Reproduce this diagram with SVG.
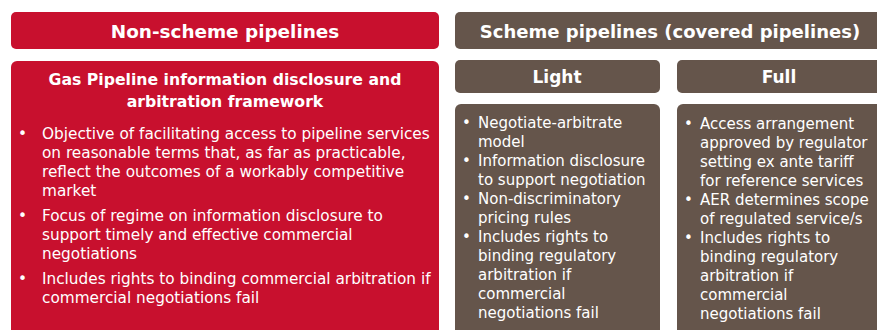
<svg xmlns="http://www.w3.org/2000/svg" width="877" height="330" viewBox="0 0 877 330">
<style>
.red{fill:#C8102E}
.brown{fill:#65554B}
.h{font-family:"DejaVu Sans",sans-serif;font-weight:bold;fill:#fff;text-anchor:middle}
.b{font-family:"DejaVu Sans",sans-serif;fill:#fff;font-size:15px}
.bl{font-family:"DejaVu Sans",sans-serif;fill:#fff;font-size:15.3px}
</style>
<rect width="877" height="330" fill="#fff"/>
<g id="nonscheme-header">
<rect class="red" x="11" y="12" width="428" height="37" rx="5"/>
<text class="h" x="225" y="38" font-size="18.4">Non-scheme pipelines</text>
</g>
<g id="nonscheme-body">
<rect class="red" x="11" y="61" width="428" height="280" rx="6"/>
<text class="h" x="225" y="85" font-size="15.7">Gas Pipeline information disclosure and</text>
<text class="h" x="225" y="107" font-size="15.7">arbitration framework</text>
<g class="bl">
<text x="18" y="139">•</text>
<text x="42" y="139">Objective of facilitating access to pipeline services</text>
<text x="42" y="158">on reasonable terms that, as far as practicable,</text>
<text x="42" y="177">reflect the outcomes of a workably competitive</text>
<text x="42" y="196">market</text>
<text x="18" y="221">•</text>
<text x="42" y="221">Focus of regime on information disclosure to</text>
<text x="42" y="240">support timely and effective commercial</text>
<text x="42" y="259">negotiations</text>
<text x="18" y="284">•</text>
<text x="42" y="284">Includes rights to binding commercial arbitration if</text>
<text x="42" y="303">commercial negotiations fail</text>
</g>
</g>
<g id="scheme-header">
<rect class="brown" x="455" y="12" width="428" height="37" rx="5"/>
<text class="h" x="670" y="38" font-size="18">Scheme pipelines (covered pipelines)</text>
</g>
<g id="light-header">
<rect class="brown" x="455" y="60" width="205" height="33" rx="5"/>
<text class="h" x="557" y="83" font-size="17">Light</text>
</g>
<g id="full-header">
<rect class="brown" x="677" y="60" width="205" height="33" rx="5"/>
<text class="h" x="779" y="83" font-size="17">Full</text>
</g>
<g id="light-body">
<rect class="brown" x="455" y="104" width="205" height="240" rx="6"/>
<g class="b">
<text x="462" y="128">•</text>
<text x="478" y="128">Negotiate-arbitrate</text>
<text x="478" y="147">model</text>
<text x="462" y="166">•</text>
<text x="478" y="166">Information disclosure</text>
<text x="478" y="185">to support negotiation</text>
<text x="462" y="204">•</text>
<text x="478" y="204">Non-discriminatory</text>
<text x="478" y="223">pricing rules</text>
<text x="462" y="242">•</text>
<text x="478" y="242">Includes rights to</text>
<text x="478" y="261">binding regulatory</text>
<text x="478" y="280">arbitration if</text>
<text x="478" y="299">commercial</text>
<text x="478" y="318">negotiations fail</text>
</g>
</g>
<g id="full-body">
<rect class="brown" x="677" y="104" width="205" height="240" rx="6"/>
<g class="b">
<text x="684" y="129">•</text>
<text x="700" y="129">Access arrangement</text>
<text x="700" y="148">approved by regulator</text>
<text x="700" y="167">setting ex ante tariff</text>
<text x="700" y="186">for reference services</text>
<text x="684" y="205">•</text>
<text x="700" y="205">AER determines scope</text>
<text x="700" y="224">of regulated service/s</text>
<text x="684" y="243">•</text>
<text x="700" y="243">Includes rights to</text>
<text x="700" y="262">binding regulatory</text>
<text x="700" y="281">arbitration if</text>
<text x="700" y="300">commercial</text>
<text x="700" y="319">negotiations fail</text>
</g>
</g>
</svg>
